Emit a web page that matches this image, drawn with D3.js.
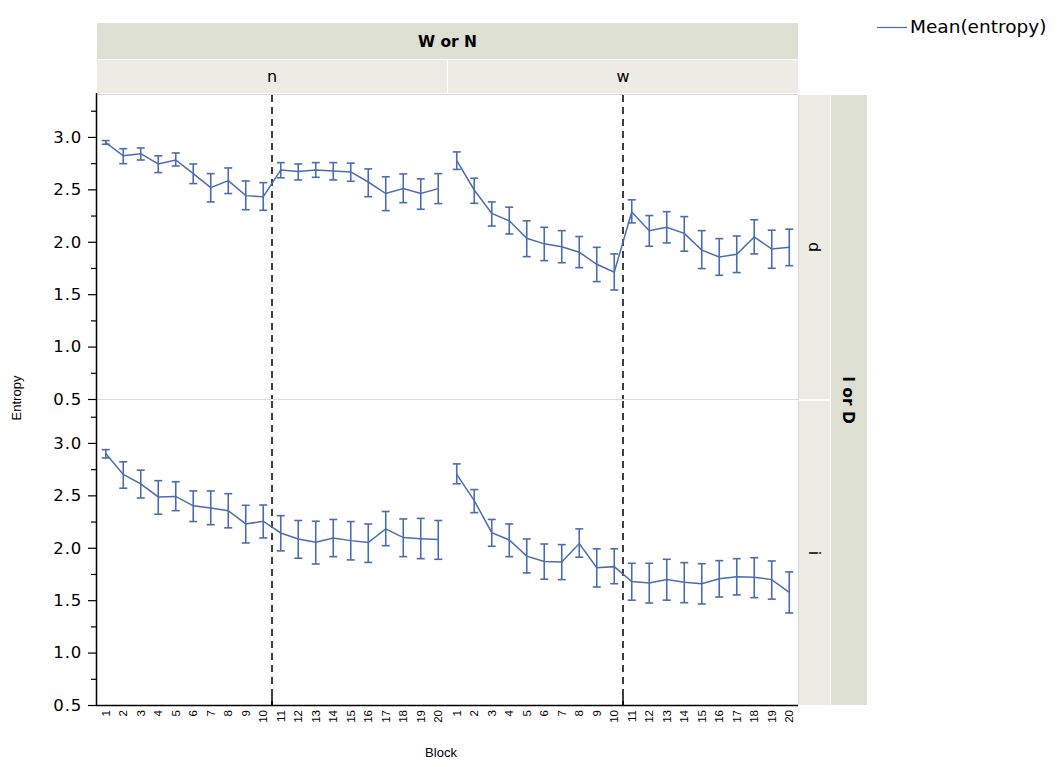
<!DOCTYPE html>
<html><head><meta charset="utf-8">
<script src="https://cdn.jsdelivr.net/npm/d3@7"></script>
<style>body{margin:0;background:#fff}svg{display:block}</style>
</head><body><svg id="c" width="1063" height="767"></svg>
<script>
const blocks = d3.range(1, 21).map(String);
const colGroups = ["n", "w"];
const rowGroups = ["d", "i"];
const yTicks = [0.5, 1.0, 1.5, 2.0, 2.5, 3.0];

const meanND = [2.946,2.82,2.84,2.742,2.78,2.65,2.516,2.583,2.44,2.43,2.685,2.67,2.685,2.675,2.666,2.57,2.46,2.507,2.46,2.507];
const lowND  = [2.93,2.745,2.78,2.66,2.723,2.555,2.38,2.46,2.306,2.30,2.61,2.59,2.615,2.59,2.577,2.43,2.297,2.373,2.31,2.364];
const highND = [2.965,2.888,2.895,2.82,2.847,2.742,2.65,2.704,2.58,2.564,2.755,2.742,2.755,2.755,2.75,2.695,2.62,2.647,2.6,2.65];

const meanWD = [2.774,2.494,2.27,2.20,2.033,1.98,1.953,1.90,1.785,1.71,2.284,2.106,2.138,2.08,1.92,1.855,1.88,2.046,1.93,1.947];
const lowWD  = [2.69,2.367,2.15,2.074,1.858,1.82,1.80,1.753,1.62,1.54,2.18,1.957,1.989,1.91,1.744,1.68,1.706,1.884,1.747,1.772];
const highWD = [2.857,2.606,2.38,2.33,2.20,2.138,2.106,2.05,1.947,1.884,2.40,2.25,2.287,2.24,2.106,2.03,2.055,2.21,2.11,2.12];

const meanNI = [2.90,2.70,2.61,2.485,2.49,2.40,2.38,2.354,2.227,2.253,2.141,2.084,2.052,2.093,2.068,2.05,2.18,2.097,2.087,2.078];
const lowNI  = [2.857,2.568,2.475,2.32,2.354,2.25,2.22,2.19,2.046,2.094,1.97,1.90,1.845,1.915,1.884,1.86,2.02,1.915,1.896,1.89];
const highNI = [2.936,2.82,2.74,2.64,2.63,2.542,2.542,2.516,2.405,2.408,2.306,2.26,2.253,2.27,2.25,2.227,2.346,2.275,2.28,2.26];

const meanWI = [2.70,2.45,2.144,2.074,1.92,1.87,1.865,2.04,1.81,1.82,1.677,1.664,1.696,1.67,1.657,1.705,1.724,1.718,1.696,1.575];
const lowWI  = [2.61,2.335,2.014,1.915,1.76,1.70,1.696,1.91,1.626,1.657,1.50,1.473,1.50,1.476,1.464,1.53,1.55,1.524,1.51,1.378];
const highWI = [2.80,2.555,2.27,2.227,2.084,2.036,2.03,2.18,1.99,1.99,1.852,1.852,1.89,1.858,1.848,1.877,1.896,1.905,1.874,1.77];

const panels = [
  {col:"n", row:"d", mean:meanND, low:lowND, high:highND},
  {col:"w", row:"d", mean:meanWD, low:lowWD, high:highWD},
  {col:"n", row:"i", mean:meanNI, low:lowNI, high:highNI},
  {col:"w", row:"i", mean:meanWI, low:lowWI, high:highWI}
];

const svg = d3.select("#c");
const blue = "#4a6cb3";
const dark = "#dedfd3", light = "#ececE5";
const left = 97, colW = 350, colGap = 1;
const rowTop = {d: 95, i: 401}, rowH = 304;

const colX = d3.scaleBand().domain(colGroups).range([left, left + 2*colW + colGap]).paddingInner(colGap/(colW+colGap));
const xScales = {};
colGroups.forEach(c => {
  xScales[c] = d3.scaleBand().domain(blocks).range([colX(c), colX(c) + colW]);
});
const yScales = {};
rowGroups.forEach(r => {
  yScales[r] = d3.scaleLinear().domain([0.5, 3.4]).range([rowTop[r] + rowH, rowTop[r]]);
});
const right = colX("w") + colW;
const bottom = rowTop.i + rowH;

// strips top
svg.append("rect").attr("x", left).attr("y", 23).attr("width", right-left).attr("height", 36).attr("fill", dark);
svg.append("text").attr("x", (left+right)/2).attr("y", 47).attr("text-anchor","middle")
  .attr("font-family","DejaVu Sans").attr("font-weight","bold").attr("font-size",15.5).text("W or N");
colGroups.forEach(c => {
  svg.append("rect").attr("x", colX(c)).attr("y", 60).attr("width", colW).attr("height", 33).attr("fill", light);
  svg.append("text").attr("x", colX(c) + colW/2).attr("y", 82).attr("text-anchor","middle")
    .attr("font-family","DejaVu Sans").attr("font-size",16).text(c);
});
// row strips
svg.append("rect").attr("x", 831).attr("y", rowTop.d).attr("width", 36).attr("height", bottom-rowTop.d).attr("fill", dark);
svg.append("text").attr("transform", `translate(843,${(rowTop.d+bottom)/2}) rotate(90)`).attr("text-anchor","middle")
  .attr("font-family","DejaVu Sans").attr("font-weight","bold").attr("font-size",15.5).text("I or D");
rowGroups.forEach(r => {
  svg.append("rect").attr("x", 799).attr("y", rowTop[r]).attr("width", 31).attr("height", rowH).attr("fill", light);
  svg.append("text").attr("transform", `translate(809,${rowTop[r]+rowH/2}) rotate(90)`).attr("text-anchor","middle")
    .attr("font-family","DejaVu Sans").attr("font-size",16).text(r);
});

// panel frame lines
svg.append("line").attr("x1",left).attr("x2",right).attr("y1",rowTop.d-0.5).attr("y2",rowTop.d-0.5).attr("stroke","#d8d8d8");
svg.append("line").attr("x1",left).attr("x2",right).attr("y1",399.5).attr("y2",399.5).attr("stroke","#dcdcdc");
svg.append("line").attr("x1",right+0.5).attr("x2",right+0.5).attr("y1",rowTop.d).attr("y2",bottom).attr("stroke","#d8d8d8");

// dashed lines
colGroups.forEach(c => {
  const xs = xScales[c];
  const xm = (xs("10") + xs.bandwidth() + xs("11")) / 2;
  rowGroups.forEach(r => {
    svg.append("line").attr("x1", xm).attr("x2", xm).attr("y1", rowTop[r]).attr("y2", rowTop[r]+rowH)
      .attr("stroke","#000").attr("stroke-width",1.5).attr("stroke-dasharray","7,5");
  });
  svg.append("line").attr("x1", xm).attr("x2", xm).attr("y1", bottom-9).attr("y2", bottom).attr("stroke","#000").attr("stroke-width",1.5);
});

// data
panels.forEach(p => {
  const xs = xScales[p.col], ys = yScales[p.row];
  const cx = b => xs(b) + xs.bandwidth()/2;
  const g = svg.append("g");
  const pts = blocks.map((b,i) => ({b, m:p.mean[i], lo:p.low[i], hi:p.high[i]}));
  g.append("path").datum(pts).attr("fill","none").attr("stroke",blue).attr("stroke-width",1.5)
    .attr("d", d3.line().x(d => cx(d.b)).y(d => ys(d.m)));
  const eb = g.selectAll("g.eb").data(pts).join("g").attr("stroke",blue).attr("stroke-width",1.6);
  eb.append("line").attr("x1", d=>cx(d.b)).attr("x2", d=>cx(d.b)).attr("y1", d=>ys(d.lo)).attr("y2", d=>ys(d.hi));
  eb.append("line").attr("x1", d=>cx(d.b)-4).attr("x2", d=>cx(d.b)+4).attr("y1", d=>ys(d.lo)).attr("y2", d=>ys(d.lo));
  eb.append("line").attr("x1", d=>cx(d.b)-4).attr("x2", d=>cx(d.b)+4).attr("y1", d=>ys(d.hi)).attr("y2", d=>ys(d.hi));
});

// y axes
rowGroups.forEach(r => {
  const ys = yScales[r];
  const minor = d3.range(0.5, 3.41, 0.25).filter(v => Math.abs(v*2 - Math.round(v*2)) > 0.01);
  const gm = svg.append("g").attr("transform", `translate(${left},0)`)
    .call(d3.axisLeft(ys).tickValues(minor).tickSize(6).tickFormat(""));
  gm.select(".domain").remove();
  gm.selectAll("line").attr("stroke","#000").attr("stroke-width",1.2);
  const ga = svg.append("g").attr("transform", `translate(${left},0)`)
    .call(d3.axisLeft(ys).tickValues(yTicks).tickSize(9).tickPadding(6).tickFormat(d3.format(".1f")));
  ga.select(".domain").remove();
  ga.selectAll("line").attr("stroke","#000").attr("stroke-width",1.2);
  ga.selectAll("text").attr("font-family","DejaVu Sans").attr("font-size",16.5).attr("letter-spacing","0.8px").attr("fill","#000");
});
svg.append("line").attr("x1",left-0.5).attr("x2",left-0.5).attr("y1",rowTop.d-2).attr("y2",bottom).attr("stroke","#000").attr("stroke-width",1.5);

// x axes
colGroups.forEach(c => {
  const ga = svg.append("g").attr("transform", `translate(0,${bottom})`)
    .call(d3.axisBottom(xScales[c]).tickSize(0).tickPadding(0));
  ga.select(".domain").remove();
  ga.selectAll("text").attr("font-family","Liberation Sans").attr("font-size",11.5).attr("fill","#000")
    .attr("text-anchor","end").attr("dy","0.35em").attr("transform","translate(0,5) rotate(-90)");
});
svg.append("line").attr("x1",left-1).attr("x2",right).attr("y1",bottom+0.5).attr("y2",bottom+0.5).attr("stroke","#000").attr("stroke-width",1.5);

// axis titles
svg.append("text").attr("transform","translate(21,398) rotate(-90)").attr("text-anchor","middle")
  .attr("font-family","Liberation Sans").attr("font-size",13).text("Entropy");
svg.append("text").attr("x",441).attr("y",757).attr("text-anchor","middle")
  .attr("font-family","Liberation Sans").attr("font-size",13).text("Block");

// legend
svg.append("line").attr("x1",877).attr("x2",907).attr("y1",27.5).attr("y2",27.5).attr("stroke",blue).attr("stroke-width",1.2);
svg.append("text").attr("x",910).attr("y",33).attr("font-family","DejaVu Sans").attr("font-size",18.5).attr("fill","#000").text("Mean(entropy)");
</script></body></html>
